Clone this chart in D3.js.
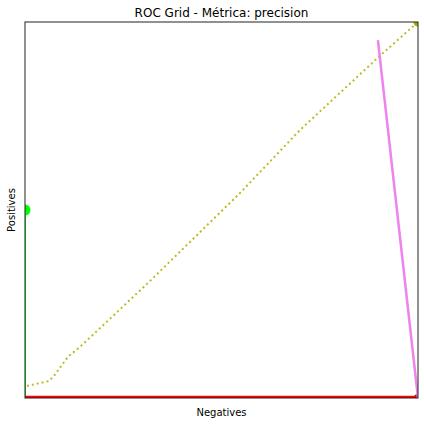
<!doctype html>
<html>
<head>
<meta charset="utf-8"/>
<title>ROC Grid</title>
<script src="https://d3js.org/d3.v7.min.js"></script>
<style>
  body { margin: 0; background: #fff; }
  text { font-family: "DejaVu Sans", sans-serif; fill: #000; }
</style>
</head>
<body>
<div id="chart"></div>
<script>
// curva pontilhada (negativos, positivos)
var curvaX = [0.005, 0.061, 0.074, 0.092, 0.109, 0.142, 0.183, 0.318, 0.547, 0.700, 0.903, 1.0];
var curvaY = [0.032, 0.045, 0.059, 0.085, 0.109, 0.138, 0.178, 0.311, 0.545, 0.713, 0.910, 1.0];

// segmentos: verde (eixo esquerdo), vermelho (base), violeta
var verdeX = [0, 0];
var verdeY = [0, 0.5];
var vermelhoX = [0, 1];
var vermelhoY = [0, 0];
var violetaX = [0.898, 1.0];
var violetaY = [0.952, 0.0];

var titulo = "ROC Grid - Métrica: precision";
var rotuloX = "Negatives";
var rotuloY = "Positives";

var W = 424, H = 424;
var m = {left: 25, right: 6, top: 22, bottom: 26};

var svg = d3.select("#chart").append("svg")
  .attr("width", W).attr("height", H);

var x = d3.scaleLinear().domain([0, 1]).range([m.left, W - m.right]);
var y = d3.scaleLinear().domain([0, 1]).range([H - m.bottom, m.top]);

svg.append("clipPath").attr("id", "clip")
  .append("rect")
  .attr("x", m.left).attr("y", m.top)
  .attr("width", W - m.left - m.right)
  .attr("height", H - m.top - m.bottom);

var g = svg.append("g").attr("clip-path", "url(#clip)");

function pares(xs, ys) { return xs.map(function(v, i) { return [v, ys[i]]; }); }

var linha = d3.line().x(function(d) { return x(d[0]); }).y(function(d) { return y(d[1]); });

// verde
g.append("path").attr("d", linha(pares(verdeX, verdeY)))
  .attr("fill", "none").attr("stroke", "#00ff00").attr("stroke-width", 2);
g.append("circle").attr("cx", x(verdeX[1])).attr("cy", y(verdeY[1])).attr("r", 5.5)
  .attr("fill", "#00ff00");

// vermelho
g.append("path").attr("d", linha(pares(vermelhoX, vermelhoY)))
  .attr("fill", "none").attr("stroke", "#ff0000").attr("stroke-width", 4.5);
g.append("circle").attr("cx", x(vermelhoX[1])).attr("cy", y(vermelhoY[1])).attr("r", 4)
  .attr("fill", "#e00000");

// curva pontilhada
g.append("path").attr("d", linha(pares(curvaX, curvaY)))
  .attr("fill", "none").attr("stroke", "#bcbd22").attr("stroke-width", 2)
  .attr("stroke-dasharray", "2,3");
g.append("circle").attr("cx", x(1)).attr("cy", y(1)).attr("r", 4.5)
  .attr("fill", "#a9a800");

// violeta
g.append("path").attr("d", linha(pares(violetaX, violetaY)))
  .attr("fill", "none").attr("stroke", "#ee82ee").attr("stroke-width", 2.5);

// moldura
svg.append("rect")
  .attr("x", m.left).attr("y", m.top)
  .attr("width", W - m.left - m.right)
  .attr("height", H - m.top - m.bottom)
  .attr("fill", "none").attr("stroke", "#222").attr("stroke-width", 1);

// textos
svg.append("text").attr("x", (m.left + W - m.right) / 2).attr("y", 17)
  .attr("text-anchor", "middle").style("font-size", "12px").text(titulo);
svg.append("text").attr("x", (m.left + W - m.right) / 2).attr("y", 416)
  .attr("text-anchor", "middle").style("font-size", "10px").text(rotuloX);
svg.append("text")
  .attr("transform", "translate(15," + (m.top + H - m.bottom) / 2 + ") rotate(-90)")
  .attr("text-anchor", "middle").style("font-size", "10px").text(rotuloY);
</script>
</body>
</html>
